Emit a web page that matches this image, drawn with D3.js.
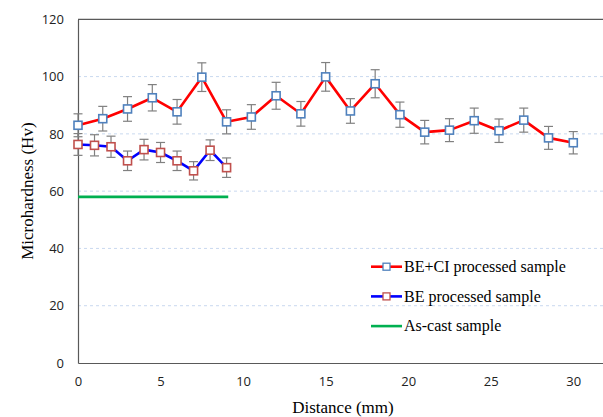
<!DOCTYPE html>
<html>
<head>
<meta charset="utf-8">
<script src="https://cdn.jsdelivr.net/npm/d3@7"></script>
<style>
  body { margin: 0; background: #fff; }
  svg { display: block; }
</style>
</head>
<body>
<div id="chart"></div>
<script>
// distances (mm) and hardness (Hv)
var distCI = [0, 1.5, 3, 4.5, 6, 7.5, 9, 10.5, 12, 13.5, 15, 16.5, 18, 19.5, 21, 22.5, 24, 25.5, 27, 28.5, 30];
var hvCI = [83, 85.3, 88.7, 92.6, 87.7, 99.8, 84.2, 85.9, 93.3, 87.0, 99.9, 88.0, 97.5, 86.7, 80.6, 81.3, 84.6, 81.1, 84.8, 78.6, 76.9];
var errCI = [4.0, 4.3, 4.3, 4.6, 4.3, 5.0, 4.2, 4.3, 4.7, 4.3, 5.0, 4.3, 4.9, 4.4, 4.1, 4.0, 4.4, 4.1, 4.2, 4.0, 3.9];

var distBE = [0, 1, 2, 3, 4, 5, 6, 7, 8, 9];
var hvBE = [76.3, 76.0, 75.5, 70.6, 74.5, 73.5, 70.6, 67.1, 74.3, 68.2];
var errBE = [3.8, 3.7, 3.7, 3.4, 3.6, 3.5, 3.4, 3.2, 3.6, 3.4];

var distCast = [0, 1, 2, 3, 4, 5, 6, 7, 8, 9.1];
var hvCast = [58, 58, 58, 58, 58, 58, 58, 58, 58, 58];

var xTicks = [0, 5, 10, 15, 20, 25, 30];
var yTicks = [0, 20, 40, 60, 80, 100, 120];
var legendLabels = ["BE+CI processed sample", "BE processed sample", "As-cast sample"];

var serif = "Liberation Serif";

var W = 603, H = 417;
var margin = { top: 19.3, right: 0, bottom: 54, left: 78 };
var width = W - margin.left - margin.right,
    height = H - margin.top - margin.bottom;

var svg = d3.select("#chart")
    .append("svg")
    .attr("width", W)
    .attr("height", H)
    .append("g")
    .attr("transform", "translate(" + margin.left + "," + margin.top + ")");

var x = d3.scaleLinear().domain([0, 31.8]).range([0, width]);
var y = d3.scaleLinear().domain([0, 120]).range([height, 0]);

// gridlines
svg.selectAll(".grid")
    .data(yTicks.filter(function (d) { return d > 0 && d < 120; }))
    .enter()
    .append("line")
    .attr("x1", 0)
    .attr("x2", width)
    .attr("y1", function (d) { return y(d); })
    .attr("y2", function (d) { return y(d); })
    .attr("stroke", "#c9d9ef")
    .attr("stroke-width", 1)
    .attr("stroke-dasharray", "3,3");

// axes
var xAxis = svg.append("g")
    .attr("transform", "translate(0," + height + ")")
    .call(d3.axisBottom(x).tickValues(xTicks).tickSize(0).tickPadding(14));
var yAxis = svg.append("g")
    .call(d3.axisLeft(y).tickValues(yTicks).tickSize(0).tickPadding(14));
[xAxis, yAxis].forEach(function (a) {
    a.attr("font-family", "Open Sans").attr("font-size", 13);
    a.select(".domain").attr("stroke", "#595959").attr("stroke-width", 1.2);
    a.selectAll("text").attr("fill", "#222");
});
// top border
svg.append("line")
    .attr("x1", 0).attr("x2", width)
    .attr("y1", 0).attr("y2", 0)
    .attr("stroke", "#595959").attr("stroke-width", 1.2);

// axis titles
svg.append("text")
    .attr("x", x(16.05))
    .attr("y", height + 50)
    .attr("text-anchor", "middle")
    .attr("font-family", serif)
    .attr("font-size", 17)
    .text("Distance (mm)");
svg.append("text")
    .attr("transform", "translate(" + (-45) + "," + y(60) + ") rotate(-90)")
    .attr("text-anchor", "middle")
    .attr("font-family", serif)
    .attr("font-size", 17)
    .text("Microhardness (Hv)");

var line = d3.line()
    .x(function (d) { return x(d[0]); })
    .y(function (d) { return y(d[1]); });

function drawSeries(dist, hv, err, lineColor, markColor) {
    var pts = dist.map(function (d, i) { return [d, hv[i], err ? err[i] : 0]; });
    svg.append("path")
        .datum(pts)
        .attr("d", line)
        .attr("fill", "none")
        .attr("stroke", lineColor)
        .attr("stroke-width", 2.6)
        .attr("stroke-linejoin", "round");
    if (!err) return;
    var eb = svg.append("g").attr("stroke", "#808080").attr("stroke-width", 1.2);
    pts.forEach(function (p) {
        var cx = x(p[0]);
        eb.append("line").attr("x1", cx).attr("x2", cx)
            .attr("y1", y(p[1] + p[2])).attr("y2", y(p[1] - p[2]));
        [p[1] + p[2], p[1] - p[2]].forEach(function (v) {
            eb.append("line").attr("x1", cx - 4.5).attr("x2", cx + 4.5)
                .attr("y1", y(v)).attr("y2", y(v));
        });
    });
    svg.selectAll(null)
        .data(pts)
        .enter()
        .append("rect")
        .attr("x", function (d) { return x(d[0]) - 4; })
        .attr("y", function (d) { return y(d[1]) - 4; })
        .attr("width", 8)
        .attr("height", 8)
        .attr("fill", "#fff")
        .attr("stroke", markColor)
        .attr("stroke-width", 1.6);
}

drawSeries(distCast, hvCast, null, "#00b050", null);
drawSeries(distBE, hvBE, errBE, "#0000ff", "#c0504d");
drawSeries(distCI, hvCI, errCI, "#ff0000", "#4f81bd");

// legend
var legendColors = [["#ff0000", "#4f81bd"], ["#0000ff", "#c0504d"], ["#00b050", null]];
var lg = svg.append("g")
    .attr("transform", "translate(" + (371 - margin.left) + "," + (266.7 - margin.top) + ")");
legendLabels.forEach(function (t, i) {
    var g = lg.append("g").attr("transform", "translate(0," + (i * 29.7) + ")");
    g.append("line").attr("x1", 0).attr("x2", 31).attr("y1", 0).attr("y2", 0)
        .attr("stroke", legendColors[i][0]).attr("stroke-width", 2.6);
    if (legendColors[i][1]) {
        g.append("rect").attr("x", 12).attr("y", -3.5).attr("width", 7).attr("height", 7)
            .attr("fill", "#fff").attr("stroke", legendColors[i][1]).attr("stroke-width", 1.3);
    }
    g.append("text")
        .attr("x", 33)
        .attr("dy", "0.33em")
        .attr("font-family", serif)
        .attr("font-size", 16)
        .text(t);
});
</script>
</body>
</html>
